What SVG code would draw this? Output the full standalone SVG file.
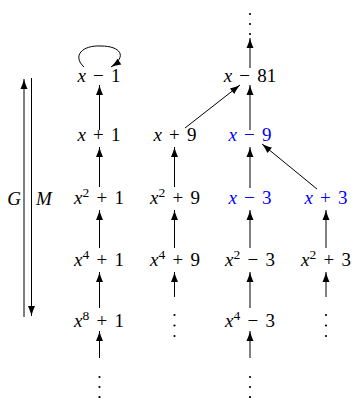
<svg xmlns="http://www.w3.org/2000/svg" width="355" height="398" viewBox="0 0 355 398">
<defs>
<marker id="ah" markerUnits="userSpaceOnUse" markerWidth="11" markerHeight="8" refX="10" refY="3.5" orient="auto" overflow="visible">
<path d="M10,3.5 C7,2.8 3,1.4 0,0 L0,7 C3,5.6 7,4.2 10,3.5 Z" fill="#000"/>
</marker>
<style>
.t{font-family:"Liberation Serif","Times New Roman",serif;font-size:19px;word-spacing:2.5px;fill:#000;text-anchor:middle}
.b{fill:#0000FF}
.i{font-style:italic}
.s{font-size:13.5px}
.c line,.c path{stroke:#000;stroke-width:1;fill:none;marker-end:url(#ah)}
.d{fill:#000}
</style>
</defs>
<rect width="355" height="398" fill="#fff"/>

<g id="n-x-1"><text class="t" x="99" y="82"><tspan class="i">x</tspan> − 1</text></g>
<g id="n-x+1"><text class="t" x="99" y="141"><tspan class="i">x</tspan> + 1</text></g>
<g id="n-x2+1"><text class="t" x="99" y="204"><tspan class="i">x</tspan><tspan class="s" dy="-7">2</tspan><tspan dy="7"> + 1</tspan></text></g>
<g id="n-x4+1"><text class="t" x="99" y="266"><tspan class="i">x</tspan><tspan class="s" dy="-7">4</tspan><tspan dy="7"> + 1</tspan></text></g>
<g id="n-x8+1"><text class="t" x="99" y="327"><tspan class="i">x</tspan><tspan class="s" dy="-7">8</tspan><tspan dy="7"> + 1</tspan></text></g>
<g id="n-dots1"><circle class="d" cx="99.5" cy="377" r="1.1"/><circle class="d" cx="99.5" cy="387" r="1.1"/><circle class="d" cx="99.5" cy="397" r="1.1"/></g>

<g id="n-x+9"><text class="t" x="175" y="141"><tspan class="i">x</tspan> + 9</text></g>
<g id="n-x2+9"><text class="t" x="175" y="204"><tspan class="i">x</tspan><tspan class="s" dy="-7">2</tspan><tspan dy="7"> + 9</tspan></text></g>
<g id="n-x4+9"><text class="t" x="175" y="266"><tspan class="i">x</tspan><tspan class="s" dy="-7">4</tspan><tspan dy="7"> + 9</tspan></text></g>
<g id="n-dots2"><circle class="d" cx="174.5" cy="315" r="1.1"/><circle class="d" cx="174.5" cy="325.5" r="1.1"/><circle class="d" cx="174.5" cy="336" r="1.1"/></g>

<g id="n-dots3top"><circle class="d" cx="250" cy="14" r="1.1"/><circle class="d" cx="250" cy="24" r="1.1"/><circle class="d" cx="250" cy="34" r="1.1"/></g>
<g id="n-x-81"><text class="t" x="250" y="82"><tspan class="i">x</tspan> − 81</text></g>
<g id="n-x-9"><text class="t b" x="250" y="141"><tspan class="i">x</tspan> − 9</text></g>
<g id="n-x-3"><text class="t b" x="250" y="204"><tspan class="i">x</tspan> − 3</text></g>
<g id="n-x2-3"><text class="t" x="250" y="266"><tspan class="i">x</tspan><tspan class="s" dy="-7">2</tspan><tspan dy="7"> − 3</tspan></text></g>
<g id="n-x4-3"><text class="t" x="250" y="327"><tspan class="i">x</tspan><tspan class="s" dy="-7">4</tspan><tspan dy="7"> − 3</tspan></text></g>
<g id="n-dots3"><circle class="d" cx="250" cy="377" r="1.1"/><circle class="d" cx="250" cy="387" r="1.1"/><circle class="d" cx="250" cy="397" r="1.1"/></g>

<g id="n-x+3"><text class="t b" x="326" y="204"><tspan class="i">x</tspan> + 3</text></g>
<g id="n-x2+3"><text class="t" x="326" y="266"><tspan class="i">x</tspan><tspan class="s" dy="-7">2</tspan><tspan dy="7"> + 3</tspan></text></g>
<g id="n-dots4"><circle class="d" cx="326" cy="315" r="1.1"/><circle class="d" cx="326" cy="325.5" r="1.1"/><circle class="d" cx="326" cy="336" r="1.1"/></g>

<g id="n-G"><text class="t" x="14" y="205"><tspan class="i">G</tspan></text></g>
<g id="n-M"><text class="t" x="44" y="205"><tspan class="i">M</tspan></text></g>

<g id="connectors" class="c">
<path d="M84,67 C72,56 82,45 101,46 C120,46 128,56 111,67"/>
<line x1="99.5" y1="130" x2="99.5" y2="85"/>
<line x1="99.5" y1="187" x2="99.5" y2="147"/>
<line x1="99.5" y1="248" x2="99.5" y2="210"/>
<line x1="99.5" y1="308" x2="99.5" y2="272"/>
<line x1="99.5" y1="358" x2="99.5" y2="331"/>
<line x1="174.5" y1="187" x2="174.5" y2="147"/>
<line x1="174.5" y1="248" x2="174.5" y2="210"/>
<line x1="174.5" y1="297" x2="174.5" y2="272"/>
<line x1="250" y1="68" x2="250" y2="38"/>
<line x1="250" y1="130" x2="250" y2="85"/>
<line x1="250" y1="188" x2="250" y2="147"/>
<line x1="250" y1="248" x2="250" y2="210"/>
<line x1="250" y1="308" x2="250" y2="272"/>
<line x1="250" y1="358" x2="250" y2="331"/>
<line x1="326" y1="248" x2="326" y2="210"/>
<line x1="326" y1="297" x2="326" y2="272"/>
<line x1="185" y1="128" x2="240" y2="85"/>
<line x1="317" y1="189" x2="262" y2="144"/>
<line x1="24" y1="317" x2="24" y2="79"/>
<line x1="31.5" y1="78" x2="31.5" y2="316"/>
</g>
</svg>
